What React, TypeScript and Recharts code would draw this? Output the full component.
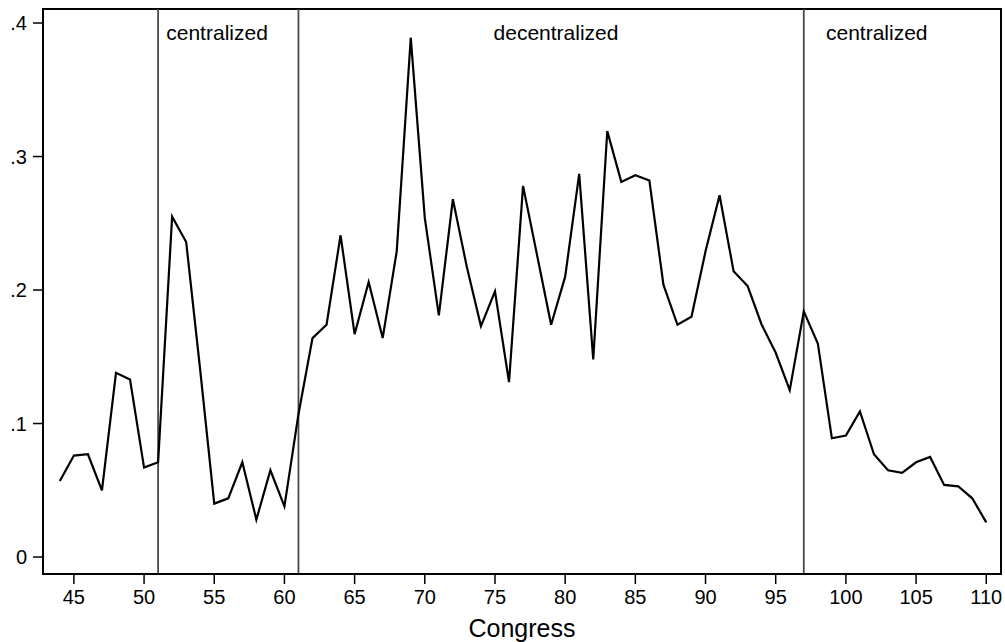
import { LineChart, Line, XAxis, YAxis, ReferenceLine, ReferenceArea, ReferenceDot } from 'recharts';

const congress = [
  44, 45, 46, 47, 48, 49, 50, 51, 52, 53, 54, 55, 56, 57, 58, 59, 60, 61, 62, 63,
  64, 65, 66, 67, 68, 69, 70, 71, 72, 73, 74, 75, 76, 77, 78, 79, 80, 81, 82, 83,
  84, 85, 86, 87, 88, 89, 90, 91, 92, 93, 94, 95, 96, 97, 98, 99, 100, 101, 102, 103,
  104, 105, 106, 107, 108, 109, 110,
];

const share = [
  0.057, 0.076, 0.077, 0.05, 0.138, 0.133, 0.067, 0.071, 0.255, 0.236, 0.14, 0.04, 0.044, 0.071, 0.028, 0.065, 0.038, 0.107, 0.164, 0.174,
  0.241, 0.167, 0.206, 0.164, 0.229, 0.389, 0.254, 0.181, 0.268, 0.217, 0.173, 0.199, 0.131, 0.278, 0.226, 0.174, 0.21, 0.287, 0.148, 0.319,
  0.281, 0.286, 0.282, 0.204, 0.174, 0.18, 0.229, 0.271, 0.214, 0.203, 0.174, 0.153, 0.125, 0.184, 0.16, 0.089, 0.091, 0.109, 0.077, 0.065,
  0.063, 0.071, 0.075, 0.054, 0.053, 0.044, 0.026,
];

const xTicks = [45, 50, 55, 60, 65, 70, 75, 80, 85, 90, 95, 100, 105, 110];
const yTicks = [0, 0.1, 0.2, 0.3, 0.4];

// regime breaks and their labels
const breaks = [51, 61, 97];
const regimeLabels = [
  { at: 55.2, text: 'centralized' },
  { at: 79.35, text: 'decentralized' },
  { at: 102.2, text: 'centralized' },
];

const X_DOMAIN: [number, number] = [42.8, 111.05];
const Y_DOMAIN: [number, number] = [-0.0127, 0.4105];
const FONT = '"Liberation Sans", Arial, Helvetica, sans-serif';

const data = congress.map((c, i) => ({ congress: c, share: share[i] }));

const fmtY = (v: number) => (v === 0 ? '0' : String(Number(v.toFixed(1))).replace(/^0/, ''));

export default function App() {
  return (
    <div style={{ position: 'absolute', left: 0, top: 0, background: '#fff', fontFamily: FONT }}>
      <LineChart width={1005} height={642} data={data} margin={{ top: 9, right: 4, bottom: 0, left: 3 }}>
        <XAxis
          dataKey="congress"
          type="number"
          domain={X_DOMAIN}
          ticks={xTicks}
          allowDataOverflow
          height={68}
          tickSize={10}
          tickMargin={6}
          axisLine={{ stroke: '#000', strokeWidth: 2 }}
          tickLine={{ stroke: '#000', strokeWidth: 1.5 }}
          tick={{ fill: '#000', fontSize: 20, fontFamily: FONT }}
          label={{ value: 'Congress', position: 'insideBottom', offset: 5, fill: '#000', fontSize: 25, fontFamily: FONT }}
        />
        <YAxis
          type="number"
          domain={Y_DOMAIN}
          ticks={yTicks}
          allowDataOverflow
          width={40}
          tickSize={10}
          tickMargin={6}
          tickFormatter={fmtY}
          axisLine={{ stroke: '#000', strokeWidth: 2 }}
          tickLine={{ stroke: '#000', strokeWidth: 1.5 }}
          tick={{ fill: '#000', fontSize: 20, fontFamily: FONT }}
        />
        <ReferenceArea
          x1={X_DOMAIN[0]}
          x2={X_DOMAIN[1]}
          y1={Y_DOMAIN[0]}
          y2={Y_DOMAIN[1]}
          fill="none"
          stroke="#000"
          strokeWidth={2}
        />
        {breaks.map((b) => (
          <ReferenceLine key={b} x={b} stroke="#4a4a4a" strokeWidth={1.8} />
        ))}
        {regimeLabels.map((r) => (
          <ReferenceDot
            key={r.at}
            x={r.at}
            y={0.393}
            r={0}
            fill="none"
            stroke="none"
            label={{ value: r.text, position: 'center', fill: '#000', fontSize: 21, fontFamily: FONT }}
          />
        ))}
        <Line
          type="linear"
          dataKey="share"
          stroke="#000"
          strokeWidth={2.2}
          dot={false}
          isAnimationActive={false}
        />
      </LineChart>
    </div>
  );
}
